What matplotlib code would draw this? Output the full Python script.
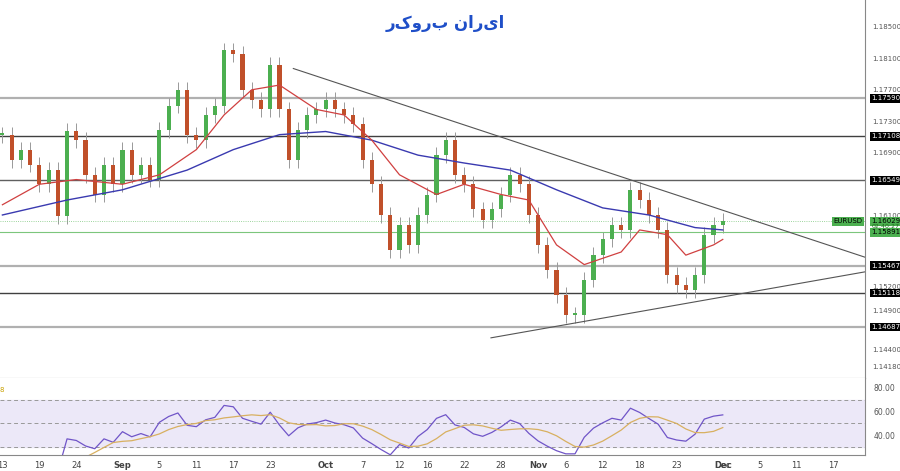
import numpy as np, pandas as pd
import matplotlib
matplotlib.use("Agg")
import matplotlib.pyplot as plt

dates = pd.bdate_range("2025-08-13", "2025-12-17")
closes = [1.1713,1.1681,1.1694,1.1675,1.1650,1.1668,1.1610,1.1718,
          1.1706,1.1662,1.1637,1.1675,1.1650,
          1.1694,1.1662,1.1675,1.1656,1.1719,1.1750,1.1770,1.1713,1.1706,1.1738,
          1.1750,1.1820,1.1815,1.1770,1.1757,1.1745,1.1802,1.1745,1.1681,1.1719,1.1738,1.1745,
          1.1757,1.1745,1.1738,1.1726,1.1681,1.1650,1.1611,1.1567,1.1598,1.1573,1.1611,1.1637,
          1.1687,1.1706,1.1662,1.1650,1.1618,1.1605,1.1618,1.1637,1.1662,1.1650,1.1611,
          1.1573,1.1541,1.1509,1.1484,1.1484,1.1529,1.1560,1.1580,1.1598,1.1592,1.1643,
          1.1630,1.1611,1.1592,1.1535,1.1522,1.1516,1.1535,1.1586,1.1598,1.1603]
n = len(closes)
blue_idx = [0,7,13,20,25,30,35,40,45,50,55,60,65,70,75,78]
blue_val = [1.1611,1.1630,1.1643,1.1668,1.1694,1.1713,1.1717,1.1706,1.1687,1.1677,1.1668,1.1643,1.1620,1.1611,1.1595,1.1592]
red_idx = [0,4,8,13,17,21,24,27,30,34,37,40,43,47,50,54,57,60,63,67,69,72,74,77,78]
red_val = [1.1624,1.1650,1.1656,1.1650,1.1662,1.1694,1.1738,1.1770,1.1776,1.1745,1.1738,1.1706,1.1662,1.1637,1.1650,1.1637,1.1630,1.1573,1.1548,1.1564,1.1592,1.1586,1.1560,1.1573,1.1580]
levels = [1.17590,1.17108,1.16549,1.15467,1.15118,1.14687]
level_col = ['#b0b0b0','#404040','#606060','#b0b0b0','#404040','#b0b0b0']
level_lw = [1.6,1.0,1.0,1.6,1.0,1.6]
axis_ticks = [1.18500,1.18100,1.17700,1.17300,1.16900,1.16100,1.15200,1.14900,1.14400,1.14180]
tick_dates = ["2025-08-13","2025-08-19","2025-08-24","2025-09-01","2025-09-05","2025-09-11","2025-09-17","2025-09-23",
              "2025-10-01","2025-10-07","2025-10-12","2025-10-16","2025-10-22","2025-10-28","2025-11-03","2025-11-06",
              "2025-11-12","2025-11-18","2025-11-23","2025-11-29","2025-12-01","2025-12-05","2025-12-11","2025-12-17"]
tick_labels = ["13","19","24","Sep","5","11","17","23","Oct","7","12","16","22","28","Nov","6","12","18","23","29","Dec","5","11","17"]
down_line = ([31.5,93.5],[1.1797,1.1557])
up_line = ([52.9,93.5],[1.1455,1.1539])
wick = 0.0010

fig = plt.figure(figsize=(9,4.71), dpi=100)
W,H = 900,471
ax = fig.add_axes([0, 1-378/H, 865/W, 378/H])
ax2 = fig.add_axes([0, 1-455/H, 865/W, 77/H], sharex=ax)
xl = (-0.26, 93.4)

c = np.array(closes); o = np.r_[c[0], c[:-1]]
hi = np.maximum(o,c)+wick; lo = np.minimum(o,c)-wick
x = np.arange(n)
for i in range(n):
    col = '#4caf50' if c[i]>=o[i] else '#c0502a'
    ax.vlines(x[i], lo[i], hi[i], color='#999999', lw=0.7, zorder=2)
    ax.bar(x[i], max(abs(c[i]-o[i]),0.0002), bottom=min(o[i],c[i]), width=0.45, color=col, zorder=3)
ax.plot(blue_idx, blue_val, color='#3a3ab0', lw=1.0, zorder=4)
ax.plot(red_idx, red_val, color='#d04040', lw=0.9, zorder=4)
for lv,cl,lw in zip(levels,level_col,level_lw):
    ax.axhline(lv, color=cl, lw=lw, zorder=1)
ax.axhline(1.15891, color='#7cc67c', lw=0.8)
ax.axhline(1.16029, color='#7cc67c', lw=0.6, ls=':')
ax.plot(*down_line, color='#555555', lw=0.8)
ax.plot(*up_line, color='#555555', lw=0.8)
ax.set_xlim(*xl); ax.set_ylim(1.1404, 1.1884)
ax.yaxis.tick_right(); ax.set_yticks(axis_ticks)
ax.set_yticklabels([f"{t:.5f}" for t in axis_ticks], fontsize=5, color='#555555')
ax.tick_params(axis='y', length=0, pad=5)
ax.tick_params(axis='x', length=0, labelbottom=False)
for s in ['top','left']: ax.spines[s].set_visible(False)
ax.spines['right'].set_color('#888888'); ax.spines['bottom'].set_color('#888888')
X0 = 1.0075
for lv in levels:
    ax.text(X0, lv, f"{lv:.5f}", transform=ax.get_yaxis_transform(), fontsize=5, color='white',
            va='center', ha='left', bbox=dict(boxstyle='square,pad=0.2', fc='black', ec='none'))
for lv,txt in [(1.16029,"1.16029"),(1.15891,"1.15891")]:
    ax.text(X0, lv, txt, transform=ax.get_yaxis_transform(), fontsize=5, color='black',
            va='center', ha='left', bbox=dict(boxstyle='square,pad=0.2', fc='#4cb050', ec='none'))
ax.text(X0, 1.15958, "02:40:27", transform=ax.get_yaxis_transform(), fontsize=4.5, color='#1a6a1a', va='center')
ax.text(0.997, 1.16029, "EURUSD", transform=ax.get_yaxis_transform(), fontsize=5, color='black',
        va='center', ha='right', bbox=dict(boxstyle='square,pad=0.2', fc='#4cb050', ec='none'))
ax.text(0.515, 0.94, "ایران بروکر"[::-1], transform=ax.transAxes, fontsize=12, color='#1f4fc8',
        ha='center', va='center', fontweight='bold')

# RSI
s = pd.Series(closes)
d = s.diff()
up = d.clip(lower=0).ewm(alpha=1/9, adjust=False).mean()
dn = (-d.clip(upper=0)).ewm(alpha=1/9, adjust=False).mean()
rsi = 100 - 100/(1+up/dn.replace(0,np.nan))
sig = rsi.rolling(6, min_periods=1).mean()
ax2.axhspan(30,70, color='#ece8f8')
for v in (30,50,70): ax2.axhline(v, color='#999999', lw=0.7, ls=(0,(4,3)))
ax2.plot(x[4:], rsi[4:], color='#7055c8', lw=0.9)
ax2.plot(x[4:], sig[4:], color='#d8b060', lw=0.9)
ax2.set_ylim(23, 88.5)
ax2.yaxis.tick_right(); ax2.set_yticks([40,60,80])
ax2.set_yticklabels(["40.00","60.00","80.00"], fontsize=5.5, color='#555555')
ax2.tick_params(axis='y', length=0, pad=6)
for sp in ['top','left']: ax2.spines[sp].set_visible(False)
ax2.spines['right'].set_color('#888888'); ax2.spines['bottom'].set_color('#888888')
tpos = [dates.searchsorted(pd.Timestamp(t)) for t in tick_dates]
ax2.set_xticks(tpos); ax2.set_xticklabels(tick_labels, fontsize=6, color='#444444')
for lab,t in zip(ax2.get_xticklabels(), tick_labels):
    if not t.isdigit(): lab.set_fontweight('bold')
ax2.tick_params(axis='x', length=0, pad=4)
ax2.text(0.0, 0.82, "8", transform=ax2.transAxes, fontsize=5, color='#c9a000')
fig.savefig("out.png", dpi=100)
